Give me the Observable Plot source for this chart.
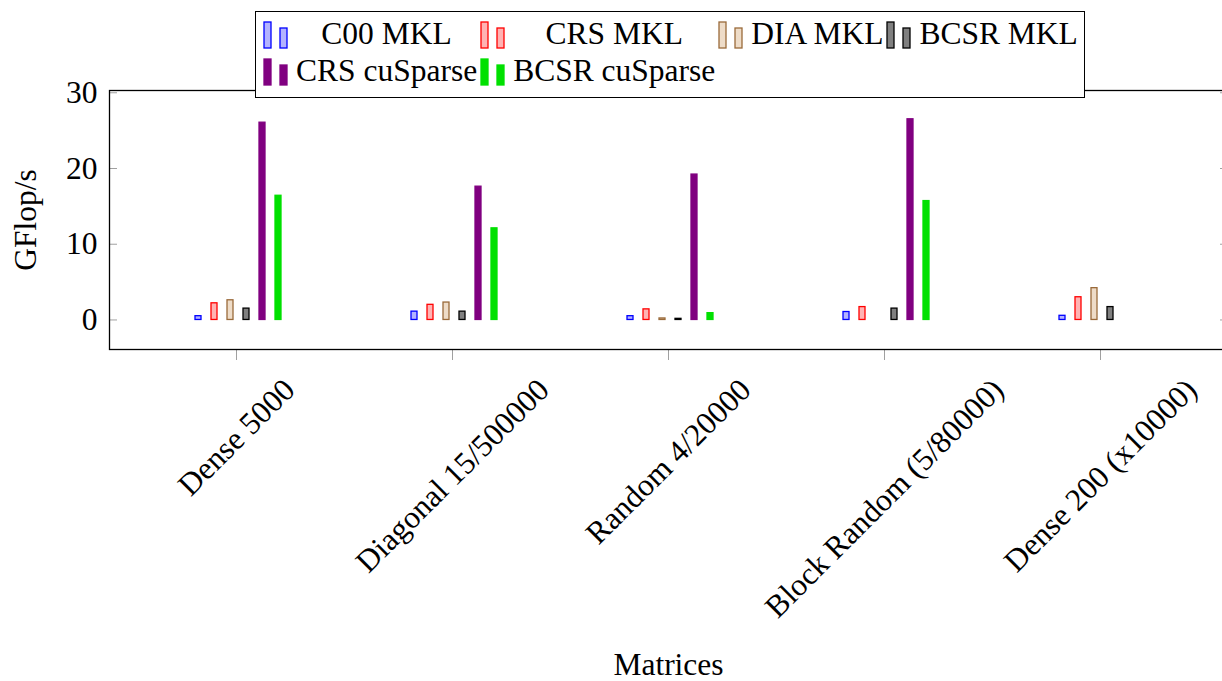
<!DOCTYPE html>
<html>
<head>
<meta charset="utf-8">
<script src="https://cdn.jsdelivr.net/npm/d3@7"></script>
<script src="https://cdn.jsdelivr.net/npm/@observablehq/plot@0.6"></script>
<style>
  html, body { margin: 0; padding: 0; background: white; overflow: hidden; }
  #wrap { position: relative; width: 1222px; height: 681px; overflow: hidden; font-family: "Liberation Serif", "Times New Roman", "DejaVu Serif", serif; }
  #wrap svg { font-family: "Liberation Serif", "Times New Roman", "DejaVu Serif", serif !important; max-width: none !important; display: block; }
  #wrap svg text { font-family: "Liberation Serif", "Times New Roman", "DejaVu Serif", serif !important; }
  #legend { position: absolute; left: 255px; top: 11px; width: 830px; height: 87px; border: 1.3px solid black; background: white;
            display: grid; grid-template-columns: repeat(4, auto auto); justify-content: start; align-content: start;
            padding: 3px 0 0 7px; box-sizing: border-box; font-size: 31.5px; }
  .sw { width: 30px; height: 37px; display: flex; align-items: flex-end; }
  .lt { height: 37px; line-height: 37px; text-align: center; padding: 0 3px; white-space: nowrap; }
</style>
</head>
<body>
<div id="wrap"></div>
<script>
const matrices = ["Dense 5000", "Diagonal 15/500000", "Random 4/20000", "Block Random (5/80000)", "Dense 200 (x10000)"];
const seriesNames = ["C00 MKL", "CRS MKL", "DIA MKL", "BCSR MKL", "CRS cuSparse", "BCSR cuSparse"];
const cooMkl  = [0.5, 1.1, 0.5, 1.05, 0.55];
const crsMkl  = [2.2, 2.0, 1.4, 1.7, 3.0];
const diaMkl  = [2.6, 2.3, 0.2, null, 4.2];
const bcsrMkl = [1.5, 1.1, 0.15, 1.5, 1.7];
const crsCu   = [26.05, 17.6, 19.2, 26.5, null];
const bcsrCu  = [16.4, 12.1, 0.9, 15.7, null];
const yTicks  = [0, 10, 20, 30];

const seriesValues = [cooMkl, crsMkl, diaMkl, bcsrMkl, crsCu, bcsrCu];
const fills   = ["#b3b3ff", "#ffb3b3", "#eedcc8", "#808080", "#800080", "#00e000"];
const strokes = ["#0000ff", "#ff0000", "#9a6a3a", "#000000", "#800080", "#00e000"];

const rows = seriesNames.flatMap((s, i) => matrices.map((m, j) => ({series: s, idx: i, matrix: m, value: seriesValues[i][j]})));

const FONT = '"Liberation Serif", "Times New Roman", "DejaVu Serif", serif';
const FS = 31.5;
const ctx = document.createElement("canvas").getContext("2d");
ctx.font = FS + 'px "Liberation Serif", "Times New Roman", serif';

const plot = Plot.plot({
  width: 1230, height: 681,
  marginLeft: 109, marginRight: 3, marginTop: 90, marginBottom: 332,
  style: {fontFamily: FONT, fontSize: FS + "px", color: "black", background: "white", overflow: "visible", maxWidth: "none"},
  x: {type: "band", domain: matrices, paddingInner: 0.9745, paddingOuter: 0.575},
  y: {domain: [-3.9, 30.3]},
  marks: [
    ...seriesNames.map((s, i) => Plot.barY(rows.filter(d => d.series === s && d.value != null), {
      x: "matrix", y: "value", dx: (i - 2.5) * 16 + 2, fill: fills[i], stroke: strokes[i], strokeWidth: 1.3
    })),
    Plot.axisY({ticks: yTicks, anchor: "left", tickSize: -8, tickFormat: () => "", stroke: "#a0a0a0", label: null}),
    Plot.axisY({ticks: yTicks, anchor: "right", tickSize: -8, tickFormat: () => "", stroke: "#a0a0a0", label: null}),
    Plot.axisY({ticks: yTicks, anchor: "left", tickSize: 0, tickPadding: 12, label: null, fontFamily: FONT}),
    Plot.axisX({tickSize: 11, tickFormat: () => "", stroke: "#a0a0a0", label: null}),
    Plot.frame({stroke: "black", strokeWidth: 1.3}),
    ...matrices.map(m => Plot.text([m], {
      x: d => d, text: d => d, frameAnchor: "bottom", rotate: -45, textAnchor: "middle", lineAnchor: "middle",
      fontFamily: FONT,
      dy: 24 + (ctx.measureText(m).width + FS) / 2 * Math.SQRT1_2
    })),
    Plot.text(["GFlop/s"], {frameAnchor: "left", textAnchor: "middle", lineAnchor: "middle", dx: -84, rotate: -90, fontFamily: FONT}),
    Plot.text(["Matrices"], {frameAnchor: "bottom", textAnchor: "middle", lineAnchor: "middle", dy: 315, fontFamily: FONT})
  ]
});

const wrap = document.getElementById("wrap");
wrap.appendChild(plot);

const legend = document.createElement("div");
legend.id = "legend";
seriesNames.forEach((s, i) => {
  const sw = document.createElement("div");
  sw.className = "sw";
  sw.innerHTML = `<svg width="30" height="37"><rect x="1" y="7" width="7" height="26" fill="${fills[i]}" stroke="${strokes[i]}" stroke-width="1.3"/><rect x="17" y="13" width="7" height="20" fill="${fills[i]}" stroke="${strokes[i]}" stroke-width="1.3"/></svg>`;
  const lt = document.createElement("div");
  lt.className = "lt";
  lt.textContent = s;
  legend.appendChild(sw);
  legend.appendChild(lt);
});
wrap.appendChild(legend);
</script>
</body>
</html>
